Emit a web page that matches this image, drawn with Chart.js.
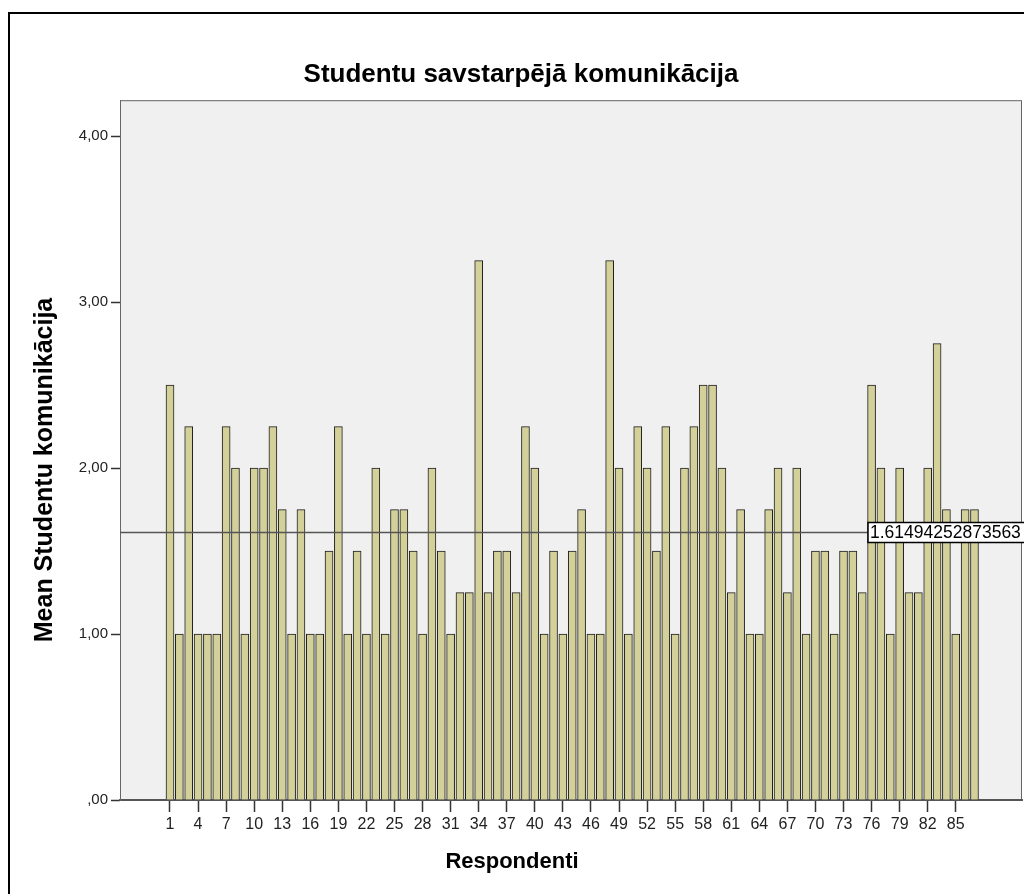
<!DOCTYPE html>
<html lang="lv">
<head>
<meta charset="UTF-8">
<title>Studentu savstarpējā komunikācija</title>
<script src="https://cdn.jsdelivr.net/npm/chart.js@4"></script>
<style>
  html, body { margin: 0; padding: 0; background: #fff; overflow: hidden; }
  .frame { position: absolute; left: 8px; top: 12px; width: 1100px; height: 1000px; border: 2px solid #000; }
  .box { position: absolute; left: 0; top: 0; width: 1024px; height: 894px; }
</style>
</head>
<body>
<div class="frame"></div>
<div class="box"><canvas id="chart" width="1024" height="894"></canvas></div>
<script>
// respondents and their mean "Studentu komunikacija" score
const respondents = [
   1,  2,  3,  4,  5,  6,  7,  8,  9, 10, 11, 12, 13, 14, 15, 16, 17, 18, 19, 20,
  21, 22, 23, 24, 25, 26, 27, 28, 29, 30, 31, 32, 33, 34, 35, 36, 37, 38, 39, 40,
  41, 42, 43, 44, 45, 46, 47, 48, 49, 50, 51, 52, 53, 54, 55, 56, 57, 58, 59, 60,
  61, 62, 63, 64, 65, 66, 67, 68, 69, 70, 71, 72, 73, 74, 75, 76, 77, 78, 79, 80,
  81, 82, 83, 84, 85, 86, 87
];
const meanScores = [
  2.50, 1.00, 2.25, 1.00, 1.00, 1.00, 2.25, 2.00, 1.00, 2.00,
  2.00, 2.25, 1.75, 1.00, 1.75, 1.00, 1.00, 1.50, 2.25, 1.00,
  1.50, 1.00, 2.00, 1.00, 1.75, 1.75, 1.50, 1.00, 2.00, 1.50,
  1.00, 1.25, 1.25, 3.25, 1.25, 1.50, 1.50, 1.25, 2.25, 2.00,
  1.00, 1.50, 1.00, 1.50, 1.75, 1.00, 1.00, 3.25, 2.00, 1.00,
  2.25, 2.00, 1.50, 2.25, 1.00, 2.00, 2.25, 2.50, 2.50, 2.00,
  1.25, 1.75, 1.00, 1.00, 1.75, 2.00, 1.25, 2.00, 1.00, 1.50,
  1.50, 1.00, 1.50, 1.50, 1.25, 2.50, 2.00, 1.00, 2.00, 1.25,
  1.25, 2.00, 2.75, 1.75, 1.00, 1.75, 1.75
];
const xTicks = [1, 4, 7, 10, 13, 16, 19, 22, 25, 28, 31, 34, 37, 40, 43, 46, 49, 52, 55, 58, 61, 64, 67, 70, 73, 76, 79, 82, 85];
const yTicks = [0, 1, 2, 3, 4];
const yTickLabels = [',00', '1,00', '2,00', '3,00', '4,00'];
const xTitle = 'Respondenti';
const yTitle = 'Mean Studentu komunikācija';

const FONT = 'Arial, "Liberation Sans", sans-serif';
const mean = meanScores.reduce((a, b) => a + b, 0) / meanScores.length;

const plotBg = {
  id: 'plotBg',
  beforeDraw(chart) {
    const { ctx, chartArea: a } = chart;
    ctx.save();
    ctx.fillStyle = '#f0f0f0';
    ctx.fillRect(a.left, a.top, a.right - a.left, a.bottom - a.top);
    ctx.strokeStyle = '#666';
    ctx.lineWidth = 1;
    ctx.strokeRect(a.left + 0.5, a.top + 0.5, a.right - a.left - 1, a.bottom - a.top);
    ctx.restore();
  }
};

const meanLine = {
  id: 'meanLine',
  afterDatasetsDraw(chart) {
    const { ctx, chartArea: a, scales } = chart;
    const y = Math.round(scales.y.getPixelForValue(mean)) + 0.5;
    ctx.save();
    ctx.strokeStyle = '#555';
    ctx.lineWidth = 1.5;
    ctx.beginPath();
    ctx.moveTo(a.left, y);
    ctx.lineTo(a.right, y);
    ctx.stroke();
    const txt = mean.toPrecision(15);
    ctx.font = '17.5px ' + FONT;
    const w = ctx.measureText(txt).width;
    const x0 = a.right - 154;
    ctx.fillStyle = '#fff';
    ctx.fillRect(x0, y - 10, w + 6, 20);
    ctx.strokeStyle = '#000';
    ctx.lineWidth = 1.5;
    ctx.strokeRect(x0, y - 10, w + 6, 20);
    ctx.fillStyle = '#000';
    ctx.textBaseline = 'middle';
    ctx.fillText(txt, x0 + 2, y + 1);
    ctx.restore();
  }
};

// axis titles are centred on the whole chart frame, as in the original
const axisTitles = {
  id: 'axisTitles',
  afterDraw(chart) {
    const ctx = chart.ctx;
    ctx.save();
    ctx.fillStyle = '#000';
    ctx.textAlign = 'center';
    ctx.textBaseline = 'middle';
    ctx.font = 'bold 22px ' + FONT;
    ctx.fillText(xTitle, 512, 862);
    ctx.translate(45, 470);
    ctx.rotate(-Math.PI / 2);
    ctx.font = 'bold 25px ' + FONT;
    ctx.fillText(yTitle, 0, 0);
    ctx.restore();
  }
};

new Chart(document.getElementById('chart'), {
  type: 'bar',
  data: {
    datasets: [{
      data: respondents.map((r, i) => ({ x: r, y: meanScores[i] })),
      backgroundColor: '#d4d09a',
      borderColor: '#1e1e1e',
      borderWidth: 1,
      barThickness: 8
    }]
  },
  options: {
    responsive: false,
    animation: false,
    devicePixelRatio: 1,
    layout: { padding: { left: 20, right: 2, top: 0, bottom: 0 } },
    plugins: {
      legend: { display: false },
      tooltip: { enabled: false },
      title: {
        display: true,
        text: 'Studentu savstarpējā komunikācija',
        color: '#000',
        font: { family: FONT, size: 26, weight: 'bold' },
        padding: { top: 59, bottom: 10 }
      }
    },
    scales: {
      x: {
        type: 'linear',
        offset: false,
        min: -4.345,
        max: 92.08,
        afterBuildTicks: s => { s.ticks = xTicks.map(v => ({ value: v })); },
        afterFit: s => { s.height = 94; },
        ticks: { autoSkip: false, maxRotation: 0, color: '#222', padding: 3, font: { family: FONT, size: 16 } },
        grid: { offset: false, drawOnChartArea: false, tickLength: 12, tickColor: '#333', tickWidth: 1.5 },
        border: { color: '#555', width: 2 },
        title: { display: false }
      },
      y: {
        min: 0,
        max: 4.217,
        afterBuildTicks: s => { s.ticks = yTicks.map(v => ({ value: v })); },
        afterFit: s => { s.width = 100; },
        ticks: {
          color: '#222', padding: 3, font: { family: FONT, size: 15 },
          callback: v => yTickLabels[yTicks.indexOf(v)]
        },
        grid: { drawOnChartArea: false, tickLength: 9, tickColor: '#333', tickWidth: 1.5 },
        border: { color: '#666', width: 1 },
        title: { display: false }
      }
    }
  },
  plugins: [plotBg, meanLine, axisTitles]
});
</script>
</body>
</html>
